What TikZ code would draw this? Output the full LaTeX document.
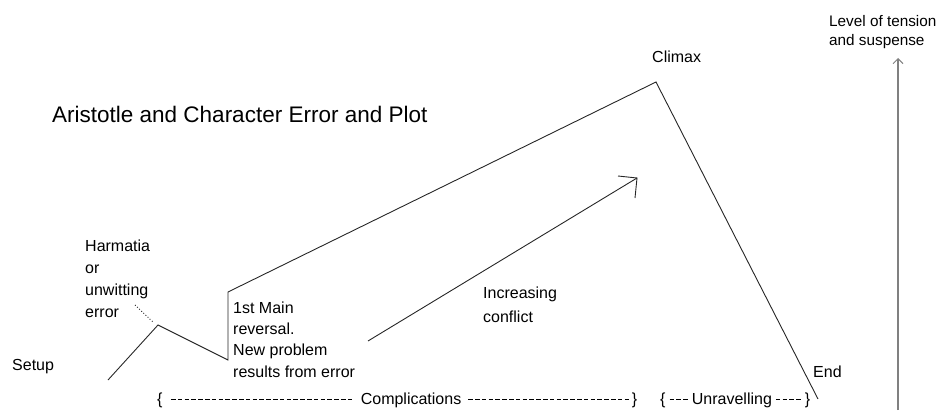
\documentclass[tikz,border=0pt]{standalone}
\usepackage{fontspec}
\setmainfont{Liberation Sans}
\usetikzlibrary{arrows.meta}
\newcommand{\hyphbox}{\hbox to 6.8pt{\hss\rule[4.3pt]{4.6pt}{1.1pt}\hss}}
\tikzset{
  lbl/.style={inner sep=0pt, anchor=base west, align=left, font=\fontsize{16}{22}\selectfont},
  brace/.style={inner sep=0pt, anchor=base west, font=\fontsize{16}{18}\selectfont},
  plotline/.style={draw=black!85, line width=0.9pt},
  axisline/.style={draw=black!50, line width=1.6pt}
}
\begin{document}
\begin{tikzpicture}[x=1pt,y=-1pt]
\useasboundingbox (0,0) rectangle (945,412);
% plot line points
\coordinate (s0) at (108,380);
\coordinate (h) at (158,325);
\coordinate (r0) at (228,360);
\coordinate (r1) at (228,292);
\coordinate (cl) at (656,82);
\coordinate (en) at (818,399);
\draw[plotline] (s0) -- (h) -- (r0) -- (r1) -- (cl) -- (en);
% dotted pointer from Harmatia
\coordinate (d0) at (135,305);
\coordinate (d1) at (153,322);
\draw[plotline, dotted] (d0) -- (d1);
% increasing conflict arrow
\coordinate (a0) at (368,341);
\coordinate (a1) at (637,178);
\coordinate (ah1) at (618,176);
\coordinate (ah2) at (635,198);
\draw[plotline] (a0) -- (a1);
\draw[plotline] (ah1) -- (a1) -- (ah2);
% tension axis
\coordinate (t0) at (898,410);
\coordinate (t1) at (898,58);
\draw[axisline, -{Straight Barb[length=5pt,width=10pt,line width=1pt]}] (t0) -- (t1);
% texts (base anchor = baseline of last line)
\node[inner sep=0pt, anchor=base west, font=\fontsize{22.5}{26}\selectfont] (title) at (52,122) {Aristotle and Character Error and Plot};
\node[lbl] (climax) at (652,63) {Climax};
\node[lbl, font=\fontsize{15.3}{19}\selectfont] (level) at (829,46) {Level of tension\\and suspense};
\node[lbl] (harm) at (85,317) {Harmatia\\or\\unwitting\\error};
\node[lbl] (setup) at (12,370) {Setup};
\node[lbl, font=\fontsize{16}{21.3}\selectfont] (rev) at (233,377) {1st Main\\reversal.\\New problem\\results from error};
\node[lbl, font=\fontsize{16}{24}\selectfont] (inc) at (483,322) {Increasing\\conflict};
\node[lbl] (end) at (813,377) {End};
\node[brace] (comp) at (157,404)
  {\hbox to 480pt{\{\ \cleaders\hyphbox\hskip 0pt plus 1.14fill\ Complications\ \cleaders\hyphbox\hskip 0pt plus 1fill\}}};
\node[brace] (unr) at (660,404)
  {\hbox to 150pt{\{\cleaders\hyphbox\hskip 0pt plus 4fill Unravelling\cleaders\hyphbox\hskip 0pt plus 5fill\}}};
\end{tikzpicture}
\end{document}
